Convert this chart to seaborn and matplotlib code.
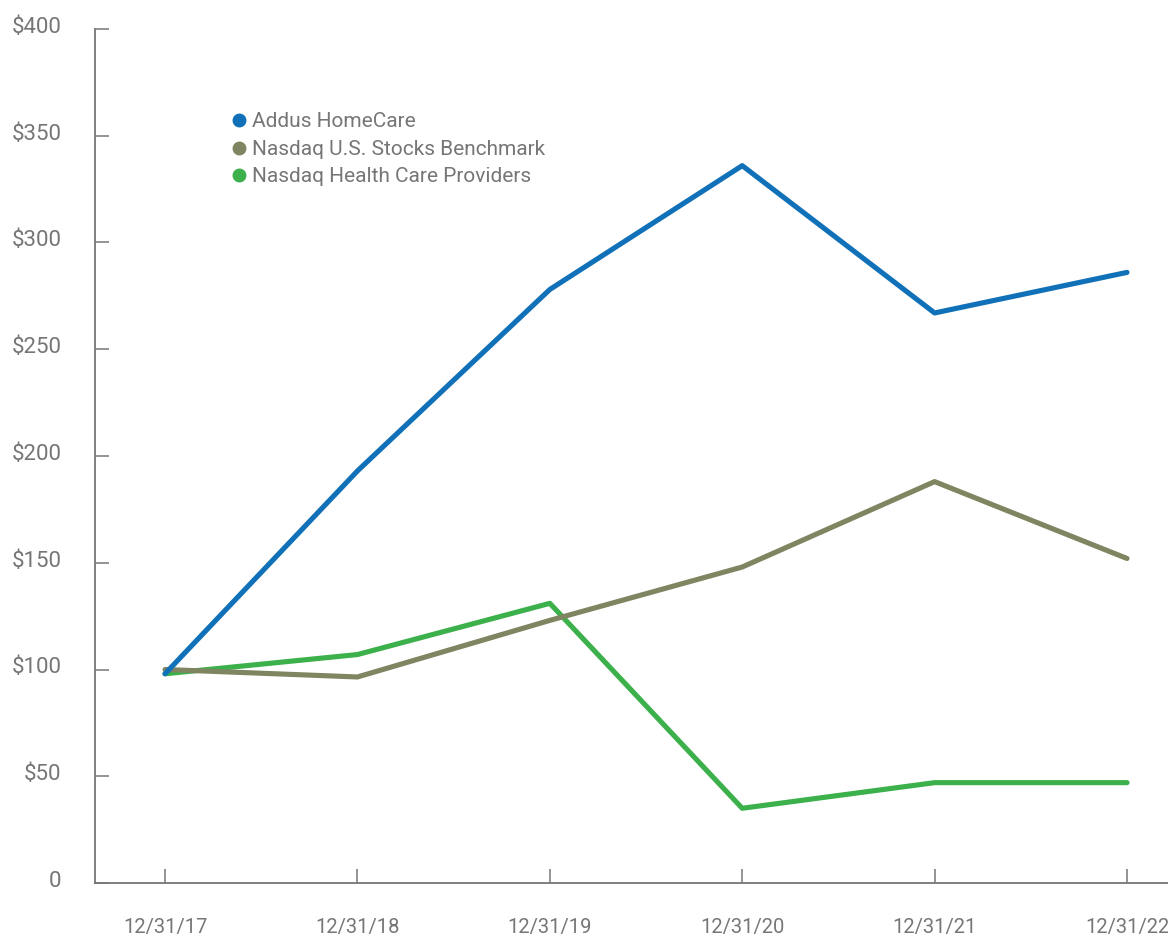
import pandas as pd
import matplotlib
matplotlib.use("Agg")
import matplotlib.pyplot as plt
import matplotlib.transforms as mtransforms
import seaborn as sns
from matplotlib.lines import Line2D
from matplotlib.ticker import FuncFormatter

# Dados
datas = ['12/31/17', '12/31/18', '12/31/19', '12/31/20', '12/31/21', '12/31/22']
addus = [98, 193, 278, 336, 267, 286]
nasdaq_us = [100, 96.5, 123, 148, 188, 152]
nasdaq_saude = [98, 107, 131, 35, 47, 47]

series = ['Addus HomeCare', 'Nasdaq U.S. Stocks Benchmark', 'Nasdaq Health Care Providers']
cores = {'Addus HomeCare': '#1070b8',
         'Nasdaq U.S. Stocks Benchmark': '#7f8561',
         'Nasdaq Health Care Providers': '#3cb04a'}

df = pd.DataFrame({
    'pos': list(range(len(datas))) * 3,
    'valor': nasdaq_saude + nasdaq_us + addus,
    'serie': [series[2]] * 6 + [series[1]] * 6 + [series[0]] * 6,
})

sns.set_theme(style="white")
plt.rcParams['font.family'] = ['Roboto', 'DejaVu Sans']

cinza = '#767676'

fig = plt.figure(figsize=(11.68, 9.35), dpi=100)
ax = fig.add_axes([95 / 1168, 1 - 883 / 935, 1 - 95 / 1168, (883 - 29) / 935])

# desenha verde, cinza e azul (azul por cima)
for nome in [series[2], series[1], series[0]]:
    sub = df[df['serie'] == nome]
    sns.lineplot(data=sub, x='pos', y='valor', color=cores[nome], linewidth=3.7,
                 ax=ax, legend=False)
for l in ax.lines:
    l.set_solid_capstyle('round')
    l.set_solid_joinstyle('round')

ax.set_xlim(-0.364, 5.213)
ax.set_ylim(0, 400)
ax.set_xticks(range(len(datas)))
ax.set_xticklabels(datas)
ax.set_yticks(range(0, 401, 50))
ax.yaxis.set_major_formatter(FuncFormatter(lambda v, p: '0' if v == 0 else f'${v:.0f}'))
ax.set_xlabel('')
ax.set_ylabel('')

for lado in ['top', 'right']:
    ax.spines[lado].set_visible(False)
for lado in ['left', 'bottom']:
    ax.spines[lado].set_color(cinza)
    ax.spines[lado].set_linewidth(1.3)

ax.tick_params(axis='y', direction='in', length=10, width=1.1, color=cinza,
               labelcolor=cinza, labelsize=16, pad=24, left=True)
ax.tick_params(axis='x', direction='in', length=10, width=1.1, color=cinza,
               labelcolor=cinza, labelsize=14.5, pad=25, bottom=True)

# rótulos do eixo y um pouco acima da marca
desloc = mtransforms.ScaledTranslation(0, 3 / 72, fig.dpi_scale_trans)
for t in ax.get_yticklabels():
    t.set_transform(t.get_transform() + desloc)

# Legenda
handles = [Line2D([], [], marker='o', linestyle='', markersize=9,
                  markerfacecolor=cores[n], markeredgecolor=cores[n]) for n in series]
leg = ax.legend(handles, series, loc='upper left', bbox_to_anchor=(0.117, 0.912),
                frameon=False, fontsize=15, handletextpad=0.1, labelspacing=0.4,
                handlelength=1.0, borderaxespad=0)
for t in leg.get_texts():
    t.set_color(cinza)

fig.savefig('out.png', dpi=100)
